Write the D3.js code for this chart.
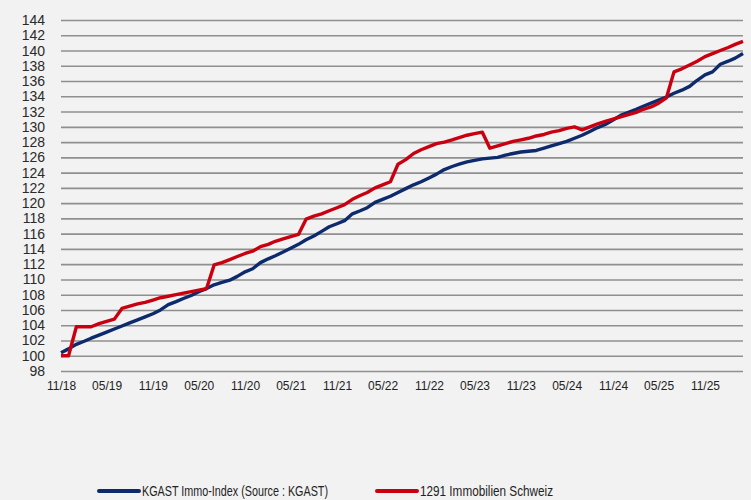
<!DOCTYPE html>
<html>
<head>
<meta charset="utf-8">
<script src="https://cdn.jsdelivr.net/npm/d3@7"></script>
<style>
  body { margin: 0; background: #f2f2f2; }
  #chart svg { display: block; }
</style>
</head>
<body>
<div id="chart"></div>
<script>

// monthly index values, 11/2018 .. 04/2026
const kgast = [
  100.4, 100.9, 101.5, 101.9, 102.3, 102.7, 103.1, 103.5, 103.9, 104.3,
  104.7, 105.1, 105.5, 106.0, 106.7, 107.1, 107.5, 107.9, 108.4, 108.8,
  109.3, 109.6, 109.9, 110.4, 111.0, 111.4, 112.2, 112.7, 113.1, 113.6,
  114.1, 114.6, 115.2, 115.7, 116.3, 116.9, 117.3, 117.7, 118.6, 119.0,
  119.4, 120.1, 120.5, 120.9, 121.4, 121.9, 122.4, 122.8, 123.3, 123.8,
  124.4, 124.8, 125.1, 125.4, 125.6, 125.8, 125.9, 126.0, 126.3, 126.5,
  126.7, 126.8, 126.9, 127.2, 127.5, 127.8, 128.1, 128.5, 128.9, 129.4,
  129.9, 130.3, 130.9, 131.5, 131.9, 132.3, 132.7, 133.1, 133.5, 133.9,
  134.4, 134.8, 135.3, 136.1, 136.8, 137.2, 138.2, 138.6, 139.0, 139.6
];

const fund1291 = [
  100.0, 100.0, 103.8, 103.8, 103.8, 104.2, 104.5, 104.8, 106.2, 106.5,
  106.8, 107.0, 107.3, 107.6, 107.8, 108.0, 108.2, 108.4, 108.6, 108.8,
  111.9, 112.2, 112.6, 113.0, 113.4, 113.7, 114.3, 114.6, 115.0, 115.3,
  115.6, 115.9, 117.9, 118.3, 118.6, 119.0, 119.4, 119.8, 120.5, 121.0,
  121.4, 122.0, 122.4, 122.8, 125.1, 125.7, 126.5, 127.0, 127.4, 127.8,
  128.0, 128.3, 128.6, 128.9, 129.1, 129.3, 127.2, 127.5, 127.8, 128.1,
  128.3, 128.5, 128.8, 129.0, 129.3, 129.5, 129.8, 130.0, 129.6, 130.0,
  130.4, 130.7, 131.0, 131.3, 131.6, 131.9, 132.3, 132.6, 133.1, 133.8,
  137.2, 137.6, 138.1, 138.6, 139.2, 139.6, 140.0, 140.4, 140.8, 141.2
];

const series = [
  { name: "KGAST Immo-Index (Source : KGAST)", values: kgast, color: "#0d2a6c" },
  { name: "1291 Immobilien Schweiz", values: fund1291, color: "#c8000f" }
];

const xTickLabels = ["11/18", "05/19", "11/19", "05/20", "11/20", "05/21", "11/21",
  "05/22", "11/22", "05/23", "11/23", "05/24", "11/24", "05/25", "11/25"];
const yTicks = d3.range(98, 145, 2);

const months = d3.timeMonth.range(new Date(2018, 10, 1), new Date(2026, 4, 1));
const parseTick = d3.timeParse("%m/%y");

const width = 751, height = 500;
const margin = { top: 20, right: 8, bottom: 129, left: 61 };
const innerW = width - margin.left - margin.right;
const innerH = height - margin.top - margin.bottom;

const svg = d3.select("#chart")
  .append("svg")
  .attr("width", width)
  .attr("height", height);

svg.append("rect")
  .attr("width", width)
  .attr("height", height)
  .attr("fill", "#f2f2f2");

const g = svg.append("g")
  .attr("transform", "translate(" + margin.left + "," + margin.top + ")");

const x = d3.scaleTime()
  .domain([months[0], months[months.length - 1]])
  .range([0, innerW]);

const y = d3.scaleLinear()
  .domain([98, 144])
  .range([innerH, 0]);

// y axis + gridlines
const yAxis = g.append("g")
  .call(d3.axisLeft(y).tickValues(yTicks).tickFormat(d3.format("d"))
    .tickSize(-innerW).tickPadding(16));
yAxis.select(".domain").remove();
yAxis.selectAll(".tick line")
  .attr("stroke", "#8f8f8f")
  .attr("stroke-width", 1.6);
yAxis.selectAll(".tick text")
  .attr("fill", "#2a2a2a")
  .style("font-family", "'Liberation Sans', Arial, sans-serif")
  .style("font-size", "14px");

// x axis
const xAxis = g.append("g")
  .attr("transform", "translate(0," + innerH + ")")
  .call(d3.axisBottom(x)
    .tickValues(xTickLabels.map(parseTick))
    .tickFormat(d3.timeFormat("%m/%y"))
    .tickSize(0).tickPadding(10));
xAxis.select(".domain").remove();
xAxis.selectAll(".tick text")
  .attr("fill", "#222")
  .style("font-family", "'Liberation Sans', Arial, sans-serif")
  .style("font-size", "12px");

// lines
const line = d3.line()
  .x((d, i) => x(months[i]))
  .y((d) => y(d));

g.selectAll(".series")
  .data(series)
  .enter()
  .append("path")
  .attr("class", "series")
  .attr("fill", "none")
  .attr("stroke", (d) => d.color)
  .attr("stroke-width", 3.4)
  .attr("stroke-linejoin", "round")
  .attr("d", (d) => line(d.values));

// legend (narrow font is not installed, so squeeze the text)
const legendX = [99, 377];
const legendTextW = [186, 133];
const legend = svg.selectAll(".legend")
  .data(series)
  .enter()
  .append("g")
  .attr("class", "legend")
  .attr("transform", (d, i) => "translate(" + legendX[i] + ",491)");

legend.append("line")
  .attr("x1", 0).attr("x2", 40)
  .attr("stroke", (d) => d.color)
  .attr("stroke-width", 4)
  .attr("stroke-linecap", "round");

legend.append("text")
  .attr("x", 43)
  .attr("dy", "0.35em")
  .attr("fill", "#222")
  .attr("textLength", (d, i) => legendTextW[i])
  .attr("lengthAdjust", "spacingAndGlyphs")
  .style("font-family", "'Liberation Sans', Arial, sans-serif")
  .style("font-size", "14px")
  .text((d) => d.name);

</script>
</body>
</html>
